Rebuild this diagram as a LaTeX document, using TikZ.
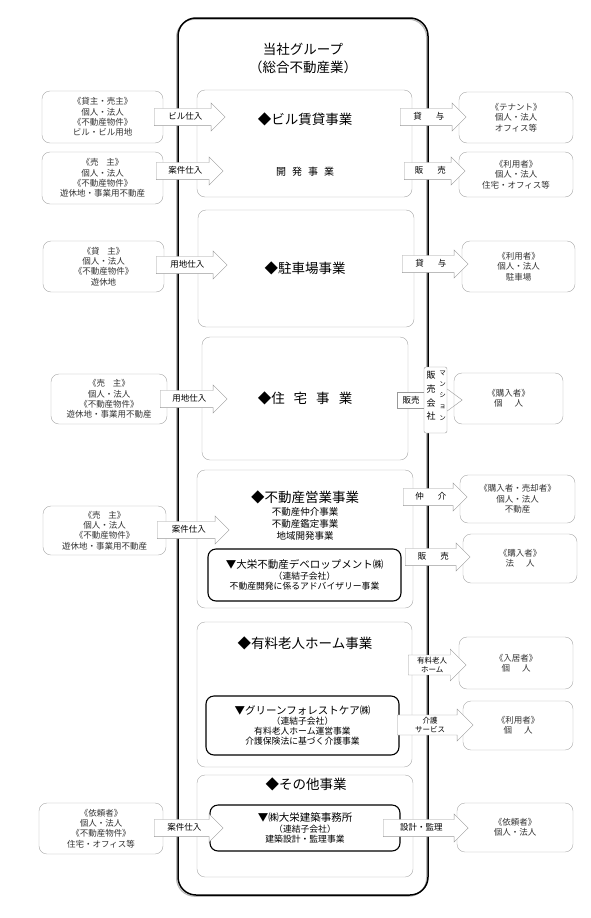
\documentclass[tikz,border=0pt]{standalone}
\usepackage{fontspec}
\setmainfont{Noto Sans CJK JP}
\usetikzlibrary{shapes.arrows}
\begin{document}
\begin{tikzpicture}[x=1pt, y=-1pt, font=\fontsize{8.5}{10.4}\selectfont,
  grp/.style={draw=gray!70, rounded corners=8pt},
  side/.style={grp, align=center, text=black!80, inner sep=2pt},
  sub/.style={draw, line width=1.1pt, rounded corners=8pt, align=center, font=\fontsize{8.8}{10.3}\selectfont},
  head/.style={font=\fontsize{13.5}{16}\selectfont},
  blk/.style={single arrow, draw=gray!80, fill=white, single arrow head extend=5.5pt,
    inner xsep=2pt, inner ysep=4.5pt, text height=6.5pt, text depth=1.2pt, font=\fontsize{8.5}{10}\selectfont},
  blkk/.style={single arrow, draw=gray!80, fill=white, single arrow head extend=6pt,
    inner xsep=2pt, inner ysep=2pt, align=center, font=\fontsize{7.5}{9}\selectfont}]
\useasboundingbox (0,0) rectangle (590,918);
% group frame
\draw[gray!55, line width=1.2pt, rounded corners=18pt] (176.6,19.2) rectangle (426.6,896.2);
\draw[line width=1.5pt, rounded corners=18pt] (178,18) rectangle (428,895);
\node[font=\fontsize{13.5}{18}\selectfont, align=center] (grp) at (303,58) {当社グループ\\（総合不動産業）};
% business boxes
\foreach \n/\x/\y/\w/\h in {1/304.5/143.5/215/107, 2/306/268.5/216/117, 3/305/398.5/206/123,
    4/305/539/216/138, 5/304.5/694.5/215/145, 6/305/826/216/102}
  \node[grp, minimum width=\w pt, minimum height=\h pt] (b\n) at (\x,\y) {};
\node[head] (h1) at (305,119) {◆ビル賃貸事業};
\node[font=\fontsize{10}{12}\selectfont] (h1b) at (305,172) {開\hspace{6pt}発\hspace{6pt}事\hspace{6pt}業};
\node[head] (h2) at (305,268) {◆駐車場事業};
\node[head] (h3) at (305,398) {◆住\hspace{9pt}宅\hspace{9pt}事\hspace{9pt}業};
\node[head] (h4) at (305,497) {◆不動産営業事業};
\node[font=\fontsize{9.5}{11.6}\selectfont, align=center] (h4b) at (305,524) {不動産仲介事業\\不動産鑑定事業\\地域開発事業};
\node[head] (h5) at (305,643) {◆有料老人ホーム事業};
\node[head] (h6) at (306,784) {◆その他事業};
% subsidiaries
\node[sub, minimum width=193pt, minimum height=52pt] (s1) at (304.5,575)
  {{\fontsize{10.5}{11.5}\selectfont ▼大栄不動産デベロップメント㈱}\\（連結子会社）\\不動産開発に係るアドバイザリー事業};
\node[sub, minimum width=193pt, minimum height=59pt] (s2) at (302.5,725.5)
  {{\fontsize{10.5}{11.5}\selectfont ▼グリーンフォレストケア㈱}\\（連結子会社）\\有料老人ホーム運営事業\\介護保険法に基づく介護事業};
\node[sub, minimum width=190pt, minimum height=46pt] (s3) at (305,828)
  {{\fontsize{10.5}{11.5}\selectfont ▼㈱大栄建築事務所}\\（連結子会社）\\建築設計・監理事業};
% suppliers and customers
\foreach \n/\x/\y/\w/\h/\txt in {
    1/102.5/117/121/52/{《貸主・売主》\\個人・法人\\《不動産物件》\\ビル・ビル用地},
    2/102.5/178/121/52/{《売\hspace{8pt}主》\\個人・法人\\《不動産物件》\\遊休地・事業用不動産},
    3/103.5/266.5/121/51/{《貸\hspace{8pt}主》\\個人・法人\\《不動産物件》\\遊休地},
    4/109/399/116/50/{《売\hspace{8pt}主》\\個人・法人\\《不動産物件》\\遊休地・事業用不動産},
    5/104.5/530.5/123/49/{《売\hspace{8pt}主》\\個人・法人\\《不動産物件》\\遊休地・事業用不動産},
    6/101/828.5/124/51/{《依頼者》\\個人・法人\\《不動産物件》\\住宅・オフィス等}}
  \node[side, minimum width=\w pt, minimum height=\h pt] (l\n) at (\x,\y) {\txt};
\foreach \n/\x/\y/\w/\h/\txt in {
    1/516/117.5/114/51/{《テナント》\\個人・法人\\オフィス等},
    2/516/174.5/114/45/{《利用者》\\個人・法人\\住宅・オフィス等},
    3/518.5/266.5/113/51/{《利用者》\\個人・法人\\駐車場},
    4/508.5/398.5/109/51/{《購入者》\\個\hspace{12pt}人},
    5/517.5/499/115/48/{《購入者・売却者》\\個人・法人\\不動産},
    6/520/558.5/114/49/{《購入者》\\法\hspace{12pt}人},
    7/516/663/114/52/{《入居者》\\個\hspace{12pt}人},
    8/518/725.5/110/49/{《利用者》\\個\hspace{12pt}人},
    9/515/827.5/116/49/{《依頼者》\\個人・法人}}
  \node[side, minimum width=\w pt, minimum height=\h pt] (r\n) at (\x,\y) {\txt};
% block arrows
\foreach \n/\x/\l/\y/\txt in {1/154/71/117/ビル仕入, 2/156/67/171/案件仕入, 3/156/71/265/用地仕入,
    4/160/67/399/用地仕入, 5/157/72/530/案件仕入, 6/154/69/828/案件仕入}
  \node[blk, minimum height=\l pt, anchor=tail] (a\n) at (\x,\y) {\txt};
\foreach \n/\x/\l/\y/\txt in {1/400/66/117/貸\hspace{14pt}与, 2/404/61/171/販\hspace{14pt}売,
    3/402/66/264/貸\hspace{14pt}与, 5/403/64/497/仲\hspace{14pt}介, 6/405/65/557/販\hspace{14pt}売,
    9/383/85/828/設計・監理}
  \node[blk, minimum height=\l pt, anchor=tail] (p\n) at (\x,\y) {\txt};
\node[blkk, minimum height=58pt, anchor=tail] (p7) at (408,665) {有料老人\\ホーム};
\node[blkk, minimum height=76pt, anchor=tail] (p8) at (397,725) {介護\\サービス};
% housing sales company
\node[draw=gray!80, fill=white, minimum width=28pt, minimum height=16pt, inner sep=0pt,
  font=\fontsize{8.5}{10}\selectfont] (hb) at (411,400) {販売};
\node[draw=gray!80, fill=white, rounded corners=2pt, minimum width=23pt, minimum height=66pt] (mb) at (435.5,400) {};
\node[align=center, font=\fontsize{9}{13.8}\selectfont, inner sep=0pt] (mc) at (431,396) {販\\売\\会\\社};
\node[align=center, font=\fontsize{6.5}{11.2}\selectfont, inner sep=0pt] (mm) at (442.5,395.5) {マ\\ン\\シ\\ョ\\ン};
\draw[gray!80] (mb.east) ++(0,-11) -- ++(15,11) -- ++(-15,11);
\end{tikzpicture}
\end{document}
